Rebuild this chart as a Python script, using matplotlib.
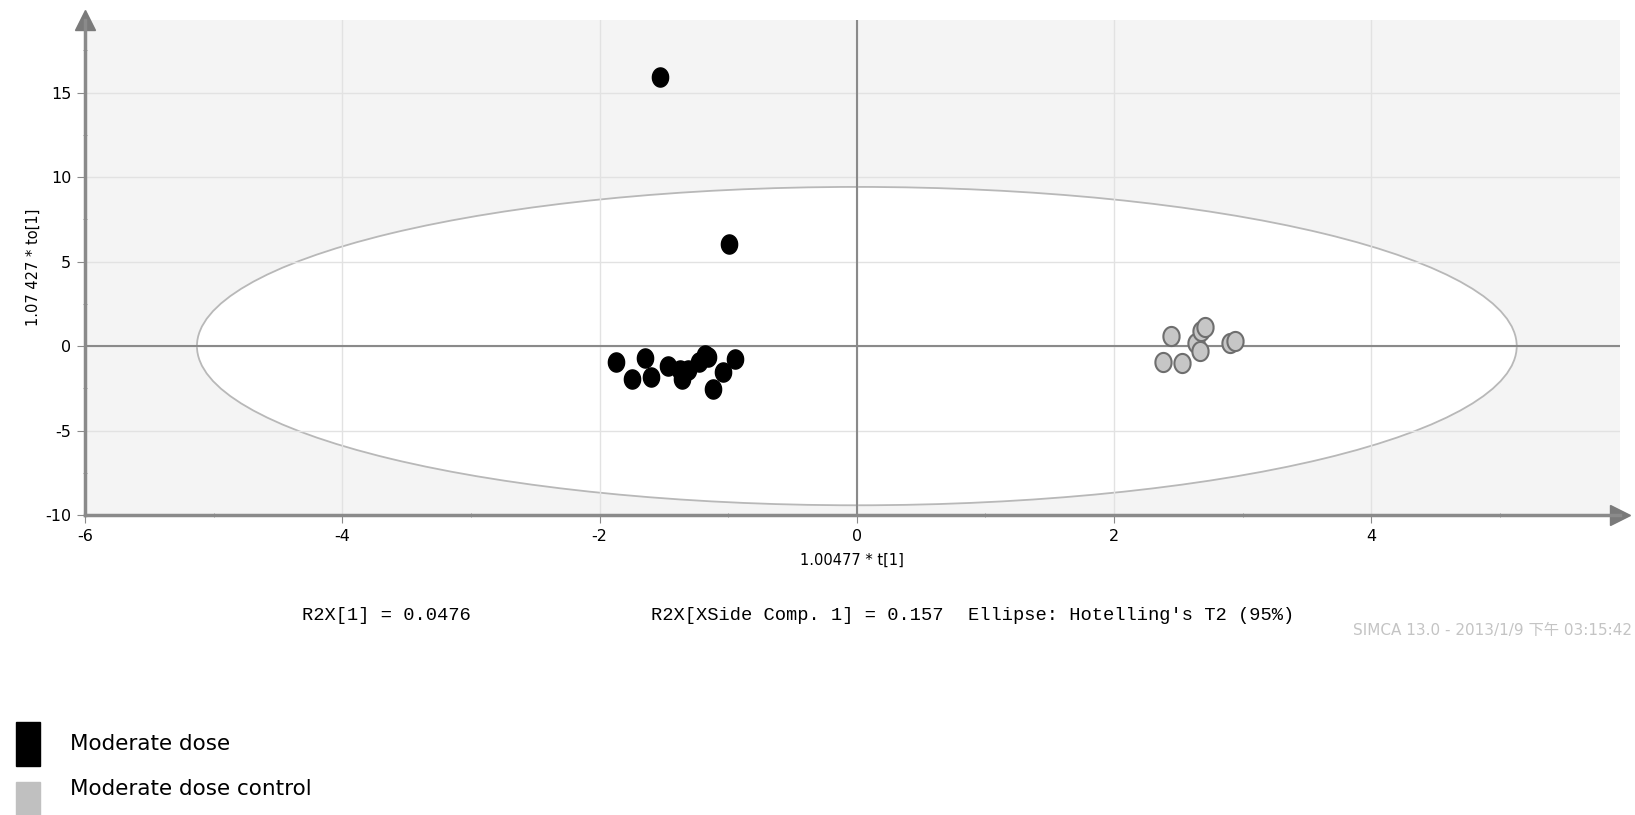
import matplotlib.pyplot as plt
from matplotlib.patches import Ellipse, Rectangle
from matplotlib.path import Path
import numpy as np

plt.rcParams['axes.unicode_minus'] = False

# scores
dose_t = [-1.53, -0.99, -1.87, -1.745, -1.65, -1.60, -1.47, -1.374, -1.356,
          -1.31, -1.23, -1.18, -1.154, -1.115, -1.037, -0.946]
dose_to = [15.9, 6.05, -0.93, -1.95, -0.69, -1.82, -1.17, -1.42, -1.95,
           -1.42, -0.93, -0.53, -0.63, -2.56, -1.56, -0.79]
ctrl_t = [2.44, 2.38, 2.53, 2.64, 2.67, 2.675, 2.71, 2.90, 2.94]
ctrl_to = [0.59, -0.93, -1.02, 0.16, -0.28, 0.91, 1.11, 0.20, 0.31]

ell_w, ell_h = 2 * 5.13, 2 * 9.42
xticks = [-6, -4, -2, 0, 2, 4]
yticks = [-10, -5, 0, 5, 10, 15]
stats = ["R2X[1] = 0.0476", "R2X[XSide Comp. 1] = 0.157", "Ellipse: Hotelling's T2 (95%)"]
groups = ["Moderate dose", "Moderate dose control"]

fig = plt.figure(figsize=(16.35, 8.15), dpi=100)
ax = fig.add_axes([0.052, 0.368, 0.9386, 0.6075])
ax.set_facecolor('#f4f4f4')
ax.set_xlim(-6, 5.93)
ax.set_ylim(-10, 19.3)

ax.add_patch(Ellipse((0, 0), ell_w, ell_h, facecolor='white', edgecolor='#b8b8b8', lw=1.3, zorder=1))
ax.set_axisbelow('line')
ax.grid(True, color='#e2e2e2', lw=1)
ax.axhline(0, color='#8a8a8a', lw=1.5, zorder=2)
ax.axvline(0, color='#8a8a8a', lw=1.5, zorder=2)

# slightly tall oval marker
t = np.linspace(0, 2 * np.pi, 60)
oval = Path(np.column_stack([np.cos(t), 1.18 * np.sin(t)]))
ax.scatter(dose_t, dose_to, s=190, marker=oval, c='black', edgecolors='black', zorder=3)
ax.scatter(ctrl_t, ctrl_to, s=190, marker=oval, c='#c6c6c6', edgecolors='#6e6e6e', linewidths=1.5, zorder=3)

for s in ['top', 'right']:
    ax.spines[s].set_visible(False)
for s in ['left', 'bottom']:
    ax.spines[s].set_color('#8a8a8a')
    ax.spines[s].set_linewidth(2.5)
ax.plot(1, 0, '>', color='#7a7a7a', ms=14, transform=ax.transAxes, clip_on=False)
ax.plot(0, 1, '^', color='#7a7a7a', ms=14, transform=ax.transAxes, clip_on=False)

ax.set_xticks(xticks)
ax.set_yticks(yticks)
ax.set_xticks([-5, -3, -1, 1, 3, 5], minor=True)
ax.set_yticks([-7.5, -2.5, 2.5, 7.5, 12.5, 17.5], minor=True)
ax.tick_params(which='major', length=6, color='#8a8a8a', labelsize=11.5, pad=4)
ax.tick_params(which='minor', length=3, color='#8a8a8a', direction='inout')
ax.set_xlabel('1.00477 * t[1]', fontsize=10.5, labelpad=6)
ax.set_ylabel('1.07 427 * to[1]', fontsize=10.5, labelpad=3)

mono = ['Liberation Mono', 'DejaVu Sans Mono']
fig.text(302 / 1635, 1 - 615 / 815, stats[0], family=mono, fontsize=13.5, va='center')
fig.text(651 / 1635, 1 - 615 / 815, stats[1], family=mono, fontsize=13.5, va='center')
fig.text(968 / 1635, 1 - 615 / 815, stats[2], family=mono, fontsize=13.5, va='center')
fig.text(1353 / 1635, 1 - 630 / 815, 'SIMCA 13.0 - 2013/1/9 下午 03:15:42',
         family=['DejaVu Sans', 'Noto Sans CJK SC'], fontsize=11, color='#c4c4c4', va='center')

# legend swatches
fig.patches.append(Rectangle((16 / 1635, 1 - 766 / 815), 24 / 1635, 44 / 815,
                             transform=fig.transFigure, color='black'))
fig.patches.append(Rectangle((16 / 1635, 0), 24 / 1635, 33 / 815,
                             transform=fig.transFigure, color='#c0c0c0'))
fig.text(70 / 1635, 1 - 744 / 815, groups[0], fontsize=15.5, va='center')
fig.text(70 / 1635, 1 - 789 / 815, groups[1], fontsize=15.5, va='center')

fig.savefig('out.png', dpi=100)
